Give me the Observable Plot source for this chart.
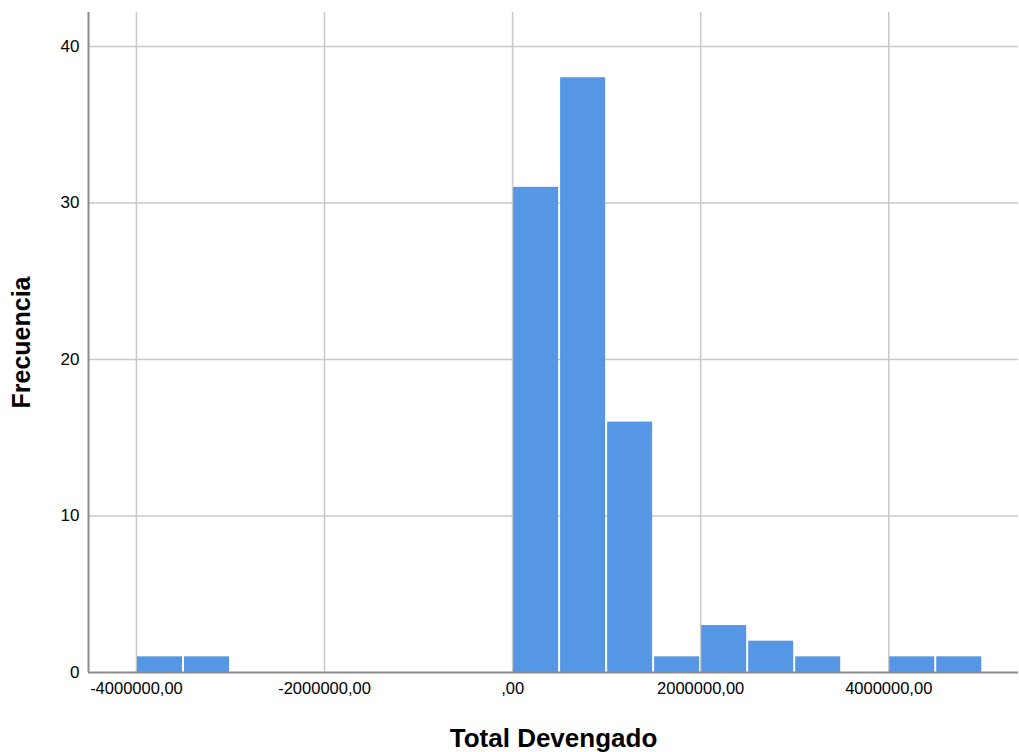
<!DOCTYPE html>
<html>
<head>
<meta charset="utf-8">
<script src="https://cdn.jsdelivr.net/npm/d3@7"></script>
<script src="https://cdn.jsdelivr.net/npm/@observablehq/plot@0.6"></script>
<style>
  html, body { margin: 0; padding: 0; background: #fff; }
  #chart svg [aria-label="x-axis tick label"] text { font-size: 16.5px !important; fill: #000; }
  #chart svg [aria-label="y-axis tick label"] text { font-size: 17px !important; fill: #000; }
  #chart svg [aria-label="x-axis label"] text { font-weight: bold !important; font-size: 26px !important; fill: #000; }
  #chart svg [aria-label="y-axis label"] text { font-weight: bold !important; font-size: 25px !important; fill: #000; }
</style>
</head>
<body>
<div id="chart"></div>
<script>
const binStarts = [-4000000, -3500000, 0, 500000, 1000000, 1500000, 2000000, 2500000, 3000000, 3500000, 4000000, 4500000];
const binWidth = 500000;
const counts = [1, 1, 31, 38, 16, 1, 3, 2, 1, 0, 1, 1];
const xTicks = [-4000000, -2000000, 0, 2000000, 4000000];
const yTicks = [0, 10, 20, 30, 40];

const data = binStarts.map((s, i) => ({x1: s, x2: s + binWidth, y: counts[i]})).filter(d => d.y > 0);

const fmt = d => d === 0 ? ",00" : `${d.toFixed(0)},00`;

const chart = Plot.plot({
  width: 1019,
  height: 752,
  marginLeft: 88,
  marginTop: 12,
  marginBottom: 80,
  marginRight: 1,
  style: { fontFamily: "Liberation Sans, Arial, sans-serif", fontSize: "16px", color: "#000", background: "#fff" },
  x: { domain: [-4510000, 5380000] },
  y: { domain: [0, 42.17] },
  marks: [
    Plot.gridX(xTicks, { stroke: "#c8c8c8", strokeOpacity: 1, strokeWidth: 1.5 }),
    Plot.gridY(yTicks.filter(d => d > 0), { stroke: "#c8c8c8", strokeOpacity: 1, strokeWidth: 1.5 }),
    Plot.rectY(data, { x1: "x1", x2: "x2", y: "y", fill: "#5596e5", insetLeft: 1, insetRight: 1 }),
    Plot.ruleX([-4510000], { stroke: "#8c8c8c", strokeWidth: 2 }),
    Plot.ruleY([0], { stroke: "#8c8c8c", strokeWidth: 2 }),
    Plot.axisX(xTicks, { tickSize: 0, tickPadding: 10, tickFormat: fmt,
      label: "Total Devengado", labelAnchor: "center", labelArrow: "none", labelOffset: 74 }),
    Plot.axisY(yTicks, { tickSize: 0, tickPadding: 9,
      label: "Frecuencia", labelAnchor: "center", labelArrow: "none", labelOffset: 76 })
  ]
});
document.getElementById("chart").appendChild(chart);
</script>
</body>
</html>
